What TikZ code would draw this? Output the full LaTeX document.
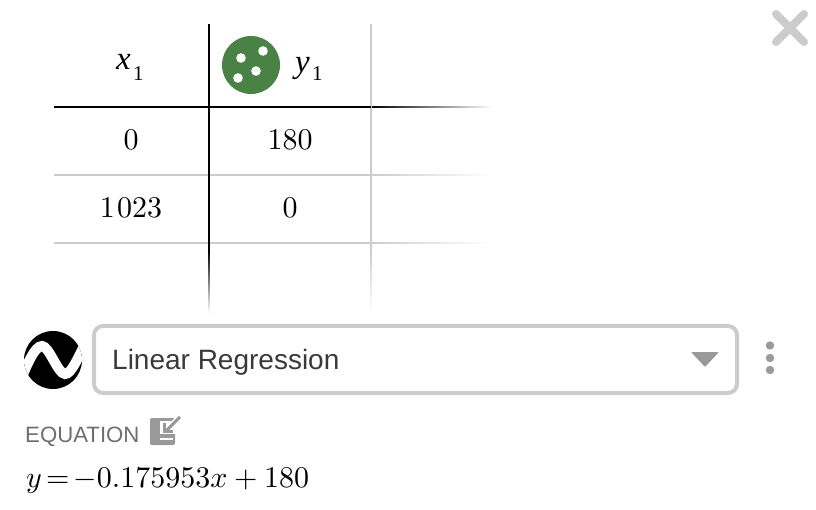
\documentclass[tikz,border=0pt]{standalone}
\usepackage{graphicx}
\usepackage{fontspec}
\newfontfamily\uisans{Liberation Sans}
\newfontfamily\headserif{Liberation Serif}
\definecolor{gridgrey}{HTML}{CCCCCC}
\definecolor{dotgreen}{HTML}{4A8246}
\definecolor{icongrey}{HTML}{999999}
\definecolor{labelgrey}{HTML}{6E6E6E}
\definecolor{uitext}{HTML}{3A3A3A}
\tikzset{
  cell/.style={inner sep=0pt,text=black,anchor=base},
  headvar/.style={inner sep=0pt,anchor=base west,font=\headserif\itshape\fontsize{33}{33}\selectfont},
  headsub/.style={inner sep=0pt,anchor=base west,font=\headserif\fontsize{21}{21}\selectfont},
}
\newcommand{\mth}[1]{\scalebox{3}{\fontsize{10}{12}\selectfont$#1$}}
\newcommand{\hfade}[2]{\foreach \i in {0,2,...,120} {\pgfmathsetmacro{\pc}{100*(1-\i/121)}\fill[#1!\pc!white] (371+\i,#2-1) rectangle (371+\i+3,#2+1);}}
\newcommand{\vfade}[2]{\foreach \i in {0,2,...,60} {\pgfmathsetmacro{\pc}{100*(1-\i/62)}\fill[#1!\pc!white] (#2-1,250+\i) rectangle (#2+1,250+\i+3);}}
\begin{document}
\begin{tikzpicture}[x=1pt,y=-1pt]
\useasboundingbox (0,0) rectangle (816,510);
% table grid
\fill[gridgrey] (54,174) rectangle (371,176);
\fill[gridgrey] (54,242) rectangle (371,244);
\hfade{gridgrey}{175}
\hfade{gridgrey}{243}
\hfade{black}{107}
\fill[gridgrey] (370,24) rectangle (372,250);
\vfade{gridgrey}{371}
\fill[black] (54,106) rectangle (371,108);
\fill[black] (208,24) rectangle (210,250);
\vfade{black}{209}
% header
\node[headvar] (hx) at (116,70) {x};
\node[headsub] (hxs) at (133,81) {1};
\fill[dotgreen] (251,65) circle (29);
\foreach \p in {(241,58),(263,51),(256,71),(238,78)} \fill[white] \p circle (4.8);
\node[headvar] (hy) at (295,73) {y};
\node[headsub] (hys) at (312,81) {1};
% cells
\node[cell] (a1) at (131,149.5) {\mth{0}};
\node[cell] (a2) at (290,149.5) {\mth{180}};
\node[cell] (b1) at (131,217.5) {\mth{1\mskip1.5mu 023}};
\node[cell] (b2) at (290,217.5) {\mth{0}};
% regression icon
\fill[black] (53,360) circle (29);
\begin{scope}
\clip (53,360) circle (29);
\draw[white,line width=10pt,line cap=butt]
  (20,382) .. controls (27,364) and (35,346) .. (42,346)
  .. controls (49,346) and (58,374) .. (65,374)
  .. controls (71,374) and (77,360) .. (86,342);
\end{scope}
% dropdown
\draw[gridgrey,line width=4pt,rounded corners=9pt,fill=white] (94,326) rectangle (737,393);
\node[anchor=base west,inner sep=0pt,font=\uisans\fontsize{28}{28}\selectfont,text=uitext] (lr) at (112,369) {Linear Regression};
\fill[icongrey,rounded corners=1pt] (691,352) -- (719,352) -- (705,367) -- cycle;
\foreach \yy in {345.5,358,370} \fill[icongrey] (770,\yy) circle (4.2);
% close
\draw[gridgrey,line width=8pt,line cap=round] (776,14) -- (804,42);
\draw[gridgrey,line width=8pt,line cap=round] (804,14) -- (776,42);
% equation label
\node[anchor=base west,inner sep=0pt,font=\uisans\fontsize{22.2}{22}\selectfont,text=labelgrey] (eql) at (25,442) {EQUATION};
\fill[icongrey,rounded corners=2pt] (150,418) rectangle (175,445);
\fill[white] (160,421) rectangle (176,434);
\fill[white] (160,437.5) rectangle (172.5,439.5);
\draw[white,line width=6pt] (182,415) -- (166,431);
\draw[icongrey,line width=3pt] (180,417) -- (165,432);
\draw[icongrey,line width=3pt] (164.5,423) -- (164.5,431.5) -- (173,431.5);
% equation
\node[cell,anchor=base west] (eq) at (26,487) {\mth{y\mskip2.5mu{=}\mskip2.5mu{-}0.175953x+180}};
\end{tikzpicture}
\end{document}
